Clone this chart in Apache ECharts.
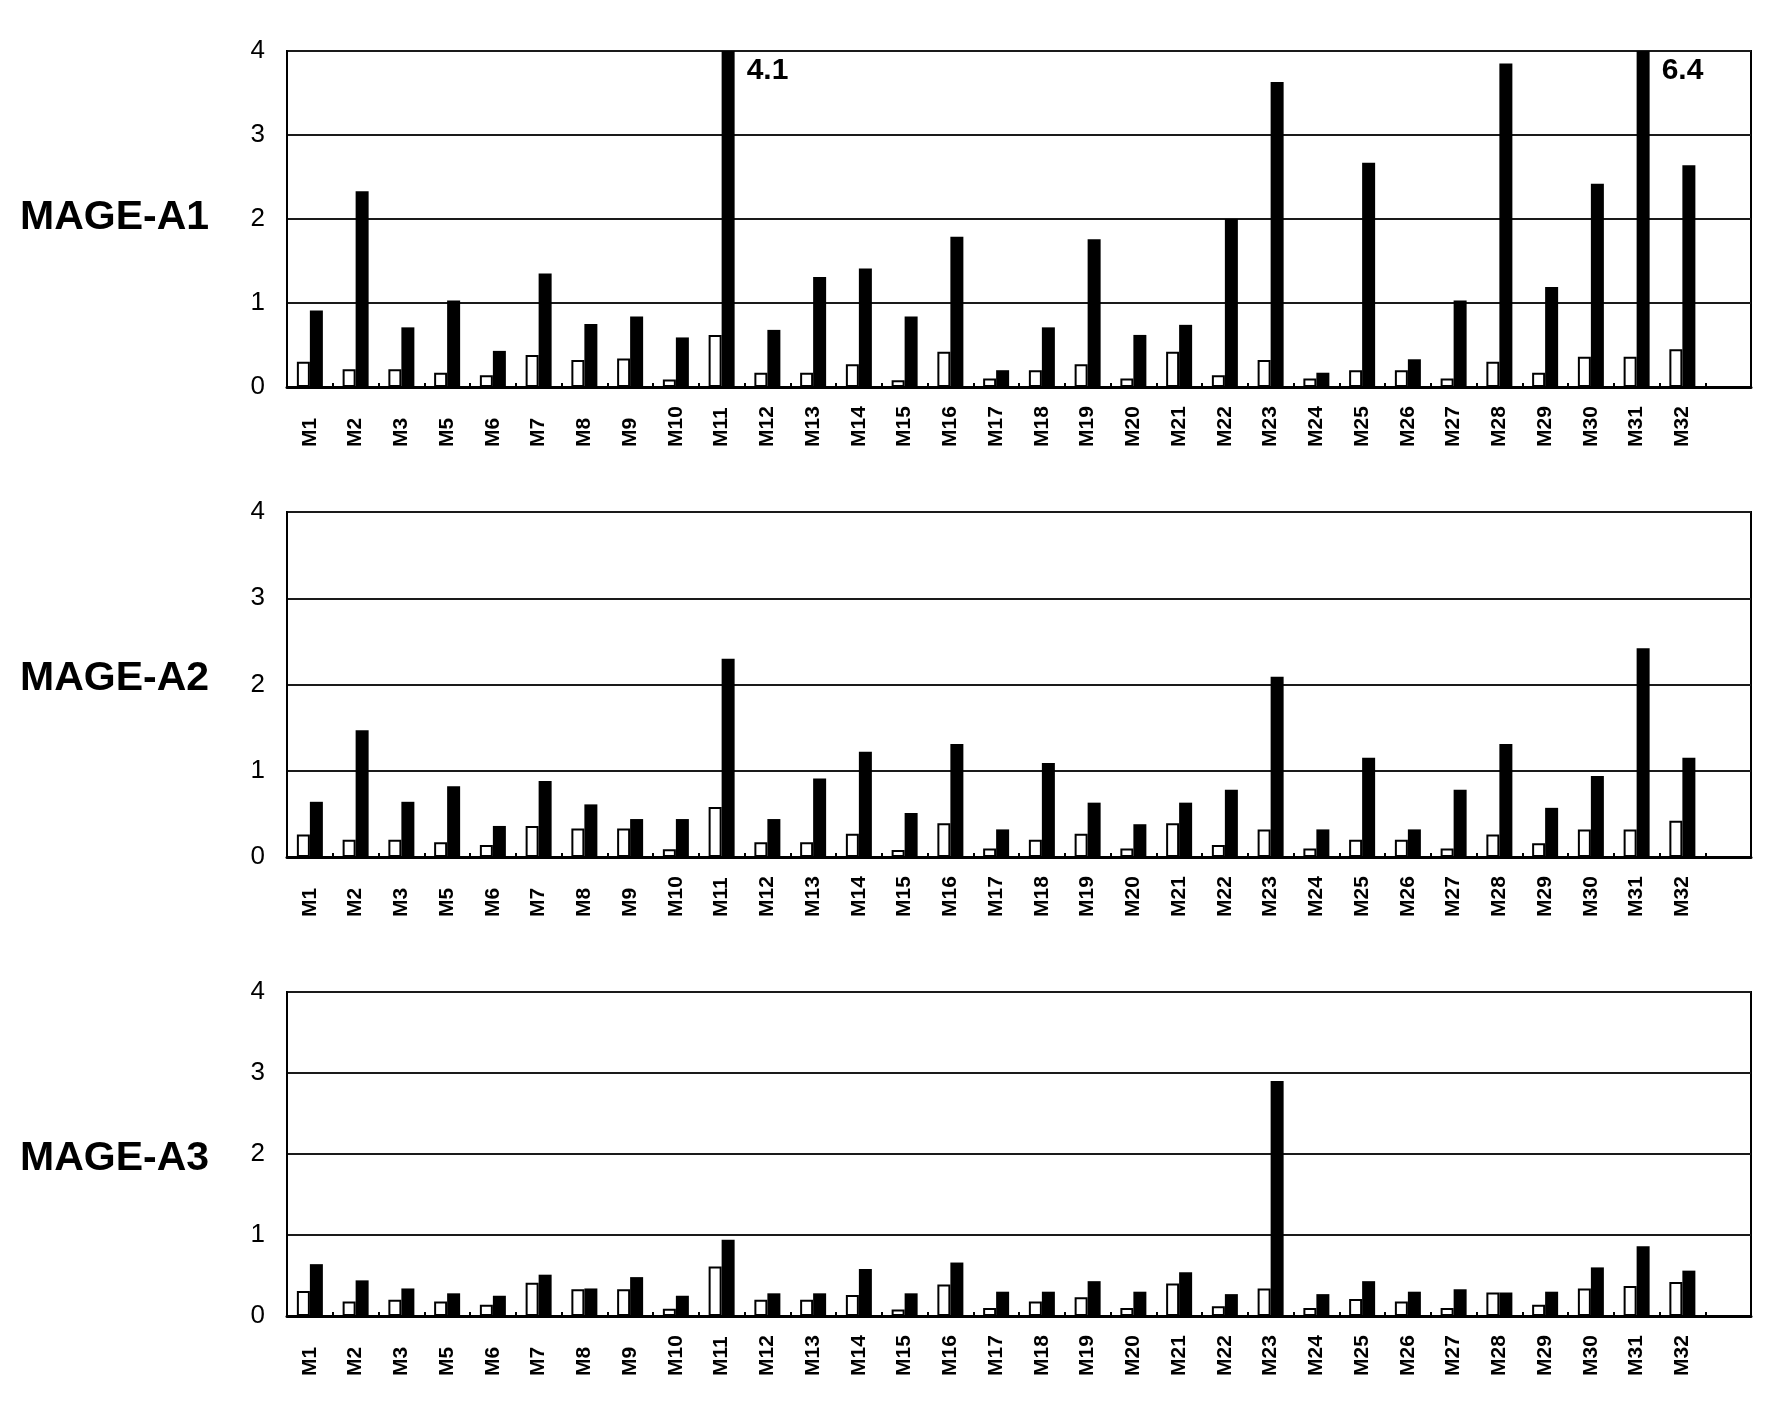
<!DOCTYPE html>
<html>
<head>
<meta charset="utf-8">
<script src="https://cdn.jsdelivr.net/npm/echarts@6/dist/echarts.min.js"></script>
<style>
html,body{margin:0;padding:0;background:#fff;}
#chart{width:1772px;height:1406px;}
</style>
</head>
<body>
<div id="chart"></div>
<script>
// ---- data ----
var categories = ['M1','M2','M3','M5','M6','M7','M8','M9','M10','M11','M12','M13','M14','M15','M16','M17','M18','M19','M20','M21','M22','M23','M24','M25','M26','M27','M28','M29','M30','M31','M32'];
var yTicks = ['0','1','2','3','4'];
var panelTitles = ['MAGE-A1','MAGE-A2','MAGE-A3'];

var a1White = [0.30,0.21,0.21,0.17,0.14,0.38,0.32,0.34,0.09,0.62,0.17,0.17,0.27,0.08,0.42,0.10,0.20,0.27,0.10,0.42,0.14,0.32,0.10,0.20,0.20,0.10,0.30,0.17,0.36,0.36,0.45];
var a1Black = [0.91,2.33,0.71,1.03,0.43,1.35,0.75,0.84,0.59,4.1,0.68,1.31,1.41,0.84,1.79,0.20,0.71,1.76,0.62,0.74,2.00,3.63,0.17,2.67,0.33,1.03,3.85,1.19,2.42,6.4,2.64];

var a2White = [0.26,0.20,0.20,0.17,0.14,0.36,0.33,0.33,0.09,0.58,0.17,0.17,0.27,0.08,0.39,0.10,0.20,0.27,0.10,0.39,0.14,0.32,0.10,0.20,0.20,0.10,0.26,0.16,0.32,0.32,0.42];
var a2Black = [0.64,1.47,0.64,0.82,0.36,0.88,0.61,0.44,0.44,2.30,0.44,0.91,1.22,0.51,1.31,0.32,1.09,0.63,0.38,0.63,0.78,2.09,0.32,1.15,0.32,0.78,1.31,0.57,0.94,2.42,1.15];

var a3White = [0.31,0.18,0.20,0.18,0.14,0.41,0.33,0.33,0.09,0.61,0.20,0.20,0.26,0.08,0.39,0.10,0.18,0.23,0.10,0.40,0.12,0.34,0.10,0.21,0.18,0.10,0.29,0.14,0.34,0.37,0.42];
var a3Black = [0.64,0.44,0.34,0.28,0.25,0.51,0.34,0.48,0.25,0.94,0.28,0.28,0.58,0.28,0.66,0.30,0.30,0.43,0.30,0.54,0.27,2.90,0.27,0.43,0.30,0.33,0.29,0.30,0.60,0.86,0.56];

var yMax = 4;

// ---- layout ----
var panels = [
  {title: panelTitles[0], white: a1White, black: a1Black, top: 51, height: 336, titleY: 221},
  {title: panelTitles[1], white: a2White, black: a2Black, top: 512, height: 345, titleY: 682},
  {title: panelTitles[2], white: a3White, black: a3Black, top: 992, height: 324, titleY: 1162}
];

var FONT = '"Liberation Sans", Arial, sans-serif';
var axisCats = categories.concat(['']);

var grids = [], xAxes = [], yAxes = [], series = [], graphics = [];
panels.forEach(function (p, i) {
  grids.push({left: 287, right: 21, top: p.top, height: p.height, show: true,
    borderColor: '#000', borderWidth: 2, backgroundColor: 'transparent', containLabel: false});
  xAxes.push({
    type: 'category', gridIndex: i, data: axisCats,
    axisLine: {show: true, lineStyle: {color: '#000', width: 3}},
    axisTick: {show: true, inside: true, length: 4, interval: 0, lineStyle: {color: '#000', width: 2}},
    axisLabel: {interval: 0, rotate: 90, align: 'left', verticalAlign: 'middle', margin: 60,
      fontSize: 21, fontWeight: 'bold', color: '#000', fontFamily: FONT},
    splitLine: {show: false}
  });
  yAxes.push({
    type: 'value', gridIndex: i, min: 0, max: yMax, interval: 1,
    axisLine: {show: true, lineStyle: {color: '#000', width: 2}},
    axisTick: {show: false},
    axisLabel: {fontSize: 26, color: '#000', margin: 22, fontFamily: FONT,
      formatter: function (v) { return yTicks[Math.round(v)]; }},
    splitLine: {show: true, lineStyle: {color: '#1a1a1a', width: 2}}
  });
  series.push({
    type: 'bar', xAxisIndex: i, yAxisIndex: i, data: p.white,
    barWidth: 13, barGap: '0%',
    itemStyle: {color: '#fff', borderColor: '#000', borderWidth: 2},
    silent: true, animation: false
  });
  series.push({
    type: 'bar', xAxisIndex: i, yAxisIndex: i,
    data: p.black.map(function (v) {
      if (v > yMax) {
        return {value: v, label: {show: true, position: ['100%', 0], offset: [12, 5],
          align: 'left', verticalAlign: 'top', formatter: String(v),
          fontSize: 30, fontWeight: 'bold', color: '#000', fontFamily: FONT}};
      }
      return v;
    }),
    barWidth: 13, barGap: '0%', clip: true,
    itemStyle: {color: '#000'},
    silent: true, animation: false
  });
  graphics.push({type: 'text', left: 20, top: p.titleY - 24,
    style: {text: p.title, fontSize: 41, fontWeight: 'bold', fill: '#000', font: 'bold 41px ' + FONT}});
});

var chart = echarts.init(document.getElementById('chart'), null, {renderer: 'canvas'});
chart.setOption({
  backgroundColor: '#fff',
  animation: false,
  grid: grids, xAxis: xAxes, yAxis: yAxes, series: series,
  graphic: graphics
});
</script>
</body>
</html>
